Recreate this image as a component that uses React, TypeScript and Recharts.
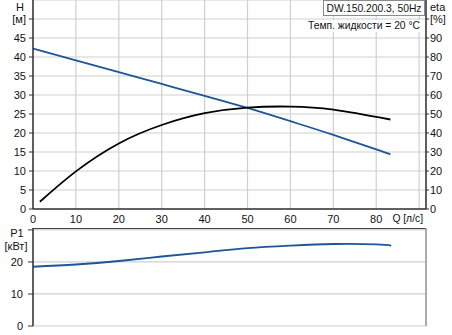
import React from "react";
import { ComposedChart, Line, XAxis, YAxis, CartesianGrid, ReferenceLine } from "recharts";

// Flow Q [л/с]
const qHead = [0, 10, 20, 30, 40, 50, 60, 70, 80, 83.3];
const headH = [42.2, 39.1, 36.0, 32.9, 29.8, 26.6, 23.1, 19.5, 15.7, 14.4];

const qEta = [1.6, 10, 20, 30, 40, 50, 60, 70, 83.3];
const etaPct = [3.8, 19.8, 34.5, 44.2, 50.4, 53.4, 53.9, 52.3, 47.1];

const qPower = [0, 10, 20, 30, 40, 50, 60, 70, 80, 83.5];
const powerP1 = [18.5, 19.2, 20.3, 21.7, 23.0, 24.3, 25.1, 25.6, 25.5, 25.1];

const xTicks = [0, 10, 20, 30, 40, 50, 60, 70, 80, 90];
const hTicks = [0, 5, 10, 15, 20, 25, 30, 35, 40, 45, 50];
const etaTicks = [0, 10, 20, 30, 40, 50, 60, 70, 80, 90, 100];
const pTicks = [0, 10, 20, 30];

const headData = qHead.map((q, i) => ({ q, h: headH[i] }));
const etaData = qEta.map((q, i) => ({ q, eta: etaPct[i] }));
const powerData = qPower.map((q, i) => ({ q, p: powerP1[i] }));

const FONT = "'Liberation Sans', Arial, sans-serif";
const FS = 11;
const FS2 = 10.3;
const TXT = "#111";
const BLUE = "#1d5696";
const GRID = "#cfcfcf";
const AX = "#333";

const LeftTick = (props: any) => {
  const { x, y, payload } = props;
  if (payload.value === 50) {
    return (
      <g>
        <text x={20} y={y - 12} dy="0.35em" textAnchor="middle" fontSize={FS} fontFamily={FONT} fill={TXT}>H</text>
        <text x={x} y={y} dy="0.35em" textAnchor="end" fontSize={FS} fontFamily={FONT} fill={TXT}>[м]</text>
      </g>
    );
  }
  return (
    <text x={x} y={y} dy="0.35em" textAnchor="end" fontSize={FS} fontFamily={FONT} fill={TXT}>{payload.value}</text>
  );
};

const RightTick = (props: any) => {
  const { x, y, payload } = props;
  if (payload.value === 100) {
    return (
      <g>
        <text x={x} y={y - 12} dy="0.35em" textAnchor="start" fontSize={FS} fontFamily={FONT} fill={TXT}>eta</text>
        <text x={x} y={y} dy="0.35em" textAnchor="start" fontSize={FS} fontFamily={FONT} fill={TXT}>[%]</text>
      </g>
    );
  }
  return (
    <text x={x} y={y} dy="0.35em" textAnchor="start" fontSize={FS} fontFamily={FONT} fill={TXT}>{payload.value}</text>
  );
};

const BottomTick = (props: any) => {
  const { x, y, payload } = props;
  if (payload.value === 90) {
    return (
      <text x={423} y={y} dy="0.71em" textAnchor="end" fontSize={FS2} fontFamily={FONT} fill={TXT}>Q [л/с]</text>
    );
  }
  return (
    <text x={x} y={y} dy="0.71em" textAnchor="middle" fontSize={FS} fontFamily={FONT} fill={TXT}>{payload.value}</text>
  );
};

const PTick = (props: any) => {
  const { x, y, payload } = props;
  if (payload.value === 30) {
    return (
      <g>
        <text x={17} y={y + 3} dy="0.35em" textAnchor="middle" fontSize={FS} fontFamily={FONT} fill={TXT}>P1</text>
        <text x={16} y={y + 16} dy="0.35em" textAnchor="middle" fontSize={FS} fontFamily={FONT} fill={TXT}>[кВт]</text>
      </g>
    );
  }
  return (
    <text x={x} y={y} dy="0.35em" textAnchor="end" fontSize={FS} fontFamily={FONT} fill={TXT}>{payload.value}</text>
  );
};

export default function App() {
  return (
    <div style={{ position: "absolute", left: 0, top: 0, width: 452, height: 335, background: "#fff" }}>
      <div style={{ position: "absolute", left: 0, top: 0 }}>
        <ComposedChart width={452} height={228} margin={{ top: 0, right: 0, bottom: 0, left: 0 }}>
          <CartesianGrid yAxisId="left" stroke={GRID} strokeWidth={1.2} />
          <XAxis
            dataKey="q"
            type="number"
            domain={[0, 91.6]}
            ticks={xTicks}
            allowDataOverflow
            height={19}
            tickLine={false}
            tickSize={0}
            tickMargin={6}
            axisLine={{ stroke: AX, strokeWidth: 1.5 }}
            tick={<BottomTick />}
            interval={0}
          />
          <YAxis
            yAxisId="left"
            type="number"
            domain={[0, 55]}
            ticks={hTicks}
            width={33}
            tickSize={4}
            tickMargin={3}
            tickLine={{ stroke: AX }}
            axisLine={{ stroke: AX, strokeWidth: 1.5 }}
            tick={<LeftTick />}
            interval={0}
          />
          <YAxis
            yAxisId="right"
            orientation="right"
            type="number"
            domain={[0, 110]}
            ticks={etaTicks}
            width={26}
            tickSize={3}
            tickMargin={1}
            tickLine={{ stroke: AX }}
            axisLine={{ stroke: AX, strokeWidth: 1.5 }}
            tick={<RightTick />}
            interval={0}
          />
          <Line
            yAxisId="left"
            data={headData}
            dataKey="h"
            type="natural"
            stroke={BLUE}
            strokeWidth={1.8}
            dot={false}
            isAnimationActive={false}
          />
          <Line
            yAxisId="right"
            data={etaData}
            dataKey="eta"
            type="natural"
            stroke="#000"
            strokeWidth={1.8}
            dot={false}
            isAnimationActive={false}
          />
        </ComposedChart>
      </div>
      <div style={{ position: "absolute", left: 0, top: 228 }}>
        <ComposedChart width={452} height={107} margin={{ top: 0, right: 26, bottom: 9, left: 0 }}>
          <CartesianGrid yAxisId="p" stroke={GRID} strokeWidth={1.2} />
          <XAxis
            dataKey="q"
            type="number"
            domain={[0, 91.6]}
            ticks={xTicks}
            allowDataOverflow
            height={0}
            tick={false}
            tickLine={false}
            axisLine={{ stroke: "#999", strokeWidth: 1.5 }}
            interval={0}
          />
          <YAxis
            yAxisId="p"
            type="number"
            domain={[0, 30.6]}
            ticks={pTicks}
            width={33}
            tickSize={5}
            tickMargin={5}
            tickLine={{ stroke: AX }}
            axisLine={{ stroke: AX, strokeWidth: 1.5 }}
            tick={<PTick />}
            interval={0}
          />
          <ReferenceLine yAxisId="p" y={30.6} stroke="#444" strokeWidth={2} ifOverflow="visible" />
          <ReferenceLine yAxisId="p" x={91.6} stroke="#999" strokeWidth={1.5} ifOverflow="visible" />
          <Line
            yAxisId="p"
            data={powerData}
            dataKey="p"
            type="natural"
            stroke={BLUE}
            strokeWidth={1.8}
            dot={false}
            isAnimationActive={false}
          />
        </ComposedChart>
      </div>
      <svg width={452} height={335} style={{ position: "absolute", left: 0, top: 0, pointerEvents: "none" }}>
        <rect x={323.5} y={0.5} width={101} height={15} fill="#fff" stroke="#8a8a8a" strokeWidth={1} />
        <text x={374} y={12} textAnchor="middle" fontSize={FS2} fontFamily={FONT} fill={TXT}>DW.150.200.3, 50Hz</text>
        <rect x={305} y={20} width={118} height={12} fill="#fff" />
        <text x={420} y={29} textAnchor="end" fontSize={FS2} fontFamily={FONT} fill={TXT}>Темп. жидкости = 20 °C</text>
      </svg>
    </div>
  );
}
